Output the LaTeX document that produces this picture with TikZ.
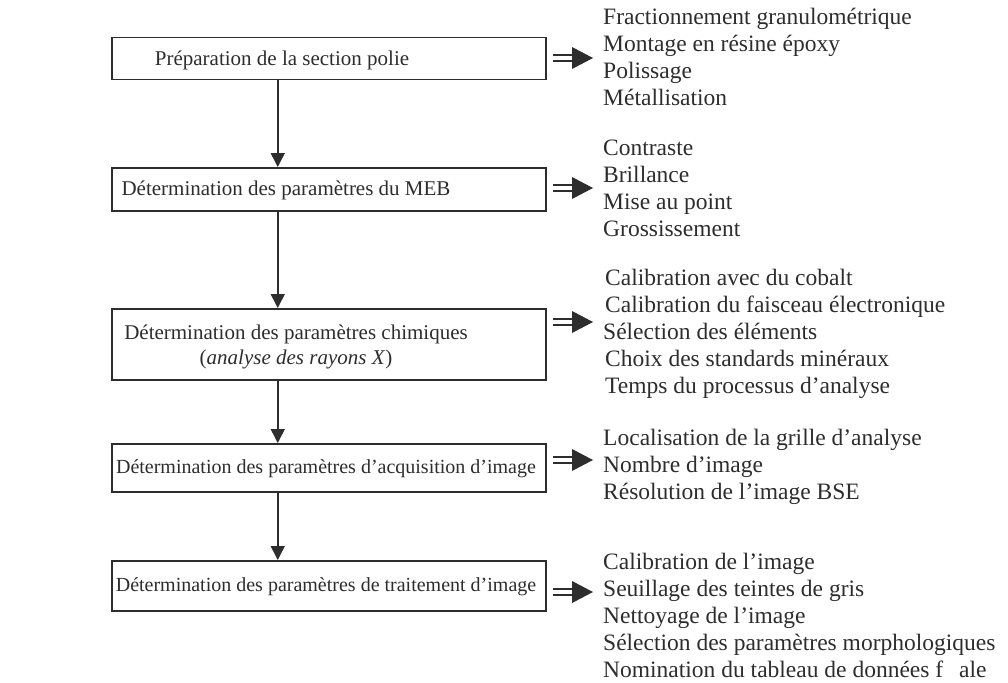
\documentclass[tikz,border=0pt]{standalone}
\usepackage{fontspec}
\setmainfont{Liberation Serif}
\usetikzlibrary{arrows.meta,calc}
\definecolor{ink}{RGB}{45,45,45}
\begin{document}
\begin{tikzpicture}[x=1pt,y=-1pt,
  txt/.style={text=ink, inner sep=0pt},
  item/.style={txt, font=\fontsize{23.5}{27}\selectfont, anchor=base west},
  ctext/.style={txt, font=\fontsize{21}{24}\selectfont, anchor=base},
  stext/.style={txt, font=\fontsize{20}{23}\selectfont, anchor=base},
  stepbox/.style={draw=ink, line width=1.5pt, anchor=north west, inner sep=0pt, minimum width=434pt},
  vline/.style={draw=ink, line width=1.5pt, -{Triangle[width=14pt,length=14pt]}},
  dbl/.style={draw=ink, line width=1.4pt},
]
\useasboundingbox (0,0) rectangle (1008,682);

% boxes
\node[stepbox, minimum height=42pt] (b1) at (111,37) {};
\node[stepbox, minimum height=43pt] (b2) at (111,167) {};
\node[stepbox, minimum height=71pt] (b3) at (111,308) {};
\node[stepbox, minimum height=48pt] (b4) at (111,443) {};
\node[stepbox, minimum height=50pt] (b5) at (111,560) {};

% box texts
\node[ctext] (t1) at (282,65.5) {Préparation de la section polie};
\node[ctext] (t2) at (286,195.5) {Détermination des paramètres du MEB};
\node[ctext] (t3a) at (296,339) {Détermination des paramètres chimiques};
\node[ctext] (t3b) at (296,364) {(\textit{analyse des rayons X})};
\node[stext] (t4) at (326,473.5) {Détermination des paramètres d’acquisition d’image};
\node[stext] (t5) at (326,591.5) {Détermination des paramètres de traitement d’image};

% vertical connectors
\draw[vline] ([xshift=-51pt]b1.south) -- ([xshift=-51pt]b2.north);
\draw[vline] ([xshift=-51pt]b2.south) -- ([xshift=-51pt]b3.north);
\draw[vline] ([xshift=-51pt]b3.south) -- ([xshift=-51pt]b4.north);
\draw[vline] ([xshift=-51pt]b4.south) -- ([xshift=-51pt]b5.north);

% double arrows
\foreach \yy/\n in {58/1,188/2,322/3,460/4,592/5}{
  \coordinate (d\n) at (553,\yy);
  \draw[dbl] ($(d\n)+(0,-3)$) -- ++(21,0);
  \draw[dbl] ($(d\n)+(0,3)$) -- ++(21,0);
  \fill[ink] ($(d\n)+(19,-11)$) -- ++(21,11) -- ++(-21,11) -- cycle;
}

% lists
\node[item] (l11) at (603,25) {Fractionnement granulométrique};
\node[item] (l12) at (603,52) {Montage en résine époxy};
\node[item] (l13) at (603,79) {Polissage};
\node[item] (l14) at (603,106) {Métallisation};

\node[item] (l21) at (603,155) {Contraste};
\node[item] (l22) at (603,182) {Brillance};
\node[item] (l23) at (603,209) {Mise au point};
\node[item] (l24) at (603,236) {Grossissement};

\node[item] (l31) at (605,285) {Calibration avec du cobalt};
\node[item] (l32) at (605,312) {Calibration du faisceau électronique};
\node[item] (l33) at (603,339) {Sélection des éléments};
\node[item] (l34) at (605,366) {Choix des standards minéraux};
\node[item] (l35) at (605,393) {Temps du processus d’analyse};

\node[item] (l41) at (603,445) {Localisation de la grille d’analyse};
\node[item] (l42) at (603,472) {Nombre d’image};
\node[item] (l43) at (603,499) {Résolution de l’image BSE};

\node[item] (l51) at (603,569) {Calibration de l’image};
\node[item] (l52) at (603,596) {Seuillage des teintes de gris};
\node[item] (l53) at (603,623) {Nettoyage de l’image};
\node[item] (l54) at (603,650) {Sélection des paramètres morphologiques};
\node[item] (l55) at (603,677) {Nomination du tableau de données f\hspace{16pt}ale};
\end{tikzpicture}
\end{document}
